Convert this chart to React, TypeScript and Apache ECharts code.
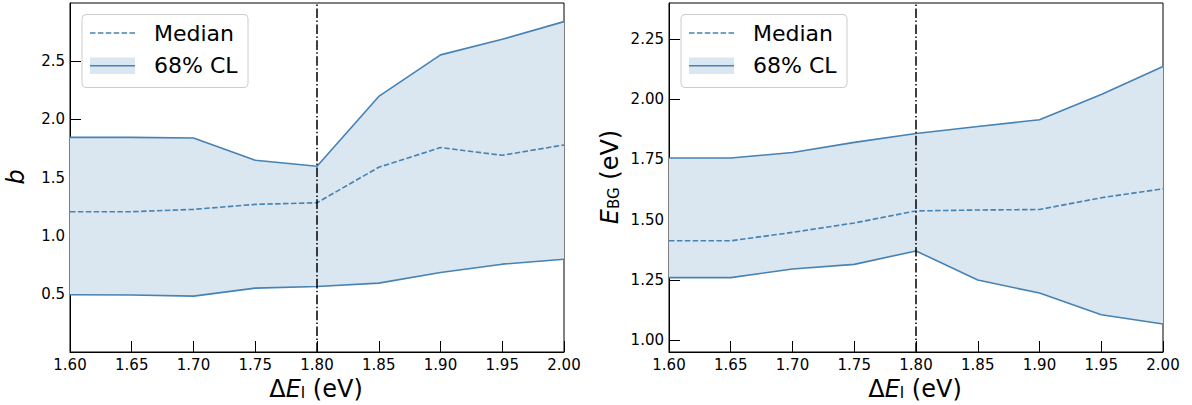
import React, { useEffect, useRef } from "react";
import * as echarts from "echarts";

const xValues = [1.6, 1.65, 1.7, 1.75, 1.8, 1.85, 1.9, 1.95, 2.0];
const xTicks = [1.6, 1.65, 1.7, 1.75, 1.8, 1.85, 1.9, 1.95, 2.0];

const bUpper = [1.845, 1.845, 1.84, 1.648, 1.597, 2.197, 2.554, 2.688, 2.84];
const bMedian = [1.206, 1.206, 1.226, 1.269, 1.283, 1.588, 1.757, 1.691, 1.78];
const bLower = [0.492, 0.49, 0.48, 0.549, 0.563, 0.592, 0.683, 0.755, 0.797];
const bTicks = [0.5, 1.0, 1.5, 2.0, 2.5];

const eUpper = [1.756, 1.756, 1.779, 1.821, 1.858, 1.887, 1.915, 2.02, 2.136];
const eMedian = [1.412, 1.412, 1.447, 1.486, 1.536, 1.54, 1.542, 1.591, 1.628];
const eLower = [1.259, 1.259, 1.295, 1.314, 1.37, 1.249, 1.195, 1.105, 1.066];
const eTicks = [1.0, 1.25, 1.5, 1.75, 2.0, 2.25];

const cutX = 1.8;

const BLUE = "#4682b4";
const FILL = "#dae6f0";
const FONT = "DejaVu Sans";
const LW = 1.6;

function bandSeries(idx: number, lower: number[], upper: number[], median: number[]) {
  const pairs = (arr: number[]) => xValues.map((x, i) => [x, arr[i]]);
  return [
    {
      type: "custom",
      xAxisIndex: idx,
      yAxisIndex: idx,
      data: [[xValues[0], lower[0]]],
      z: 1,
      silent: true,
      renderItem: (_params: any, api: any) => {
        const pts: number[][] = [];
        for (let i = 0; i < xValues.length; i++) pts.push(api.coord([xValues[i], upper[i]]));
        for (let i = xValues.length - 1; i >= 0; i--) pts.push(api.coord([xValues[i], lower[i]]));
        return { type: "polygon", shape: { points: pts }, style: { fill: FILL } };
      },
    },
    {
      type: "line",
      xAxisIndex: idx,
      yAxisIndex: idx,
      data: pairs(lower),
      symbol: "none",
      lineStyle: { color: BLUE, width: LW },
      z: 3,
    },
    {
      type: "line",
      xAxisIndex: idx,
      yAxisIndex: idx,
      data: pairs(upper),
      symbol: "none",
      lineStyle: { color: BLUE, width: LW },
      z: 3,
    },
    {
      type: "line",
      xAxisIndex: idx,
      yAxisIndex: idx,
      data: pairs(median),
      symbol: "none",
      lineStyle: { color: BLUE, width: LW, type: [5.5, 2.4] },
      z: 4,
      markLine: {
        silent: true,
        symbol: "none",
        label: { show: false },
        lineStyle: { color: "#000", width: 1.5, type: [9.6, 2.4, 1.5, 2.4] },
        data: [{ xAxis: cutX }],
        z: 5,
      },
    },
  ];
}

function legendGraphic(ox: number) {
  return [
    {
      type: "rect",
      shape: { x: 82 + ox, y: 14.5, width: 166, height: 73, r: 4 },
      style: { fill: "rgba(255,255,255,0.8)", stroke: "#cccccc", lineWidth: 1 },
      z: 10,
    },
    {
      type: "line",
      shape: { x1: 90 + ox, y1: 33, x2: 135 + ox, y2: 33 },
      style: { stroke: BLUE, lineWidth: LW, lineDash: [5.5, 2.4] },
      z: 11,
    },
    {
      type: "rect",
      shape: { x: 90 + ox, y: 57.5, width: 45, height: 16.5 },
      style: { fill: FILL },
      z: 11,
    },
    {
      type: "line",
      shape: { x1: 90 + ox, y1: 65.7, x2: 135 + ox, y2: 65.7 },
      style: { stroke: BLUE, lineWidth: LW },
      z: 12,
    },
    {
      type: "text",
      x: 154 + ox,
      y: 33,
      style: { text: "Median", font: `22px '${FONT}'`, fill: "#000", verticalAlign: "middle", align: "left" },
      z: 12,
    },
    {
      type: "text",
      x: 154 + ox,
      y: 65.5,
      style: { text: "68% CL", font: `22px '${FONT}'`, fill: "#000", verticalAlign: "middle", align: "left" },
      z: 12,
    },
  ];
}

function xTitle(cx: number) {
  return {
    type: "text",
    x: cx,
    y: 389,
    style: {
      text: "Δ{i|E}{s|I} (eV)",
      fontFamily: FONT,
      fontSize: 24,
      fill: "#000",
      align: "center",
      verticalAlign: "middle",
      rich: {
        i: { fontFamily: FONT, fontSize: 24, fontStyle: "italic", fill: "#000" },
        s: { fontFamily: FONT, fontSize: 15, fill: "#000", padding: [8, 0, 0, 0] },
      },
    },
  };
}

export default function App() {
  const ref = useRef<HTMLDivElement>(null);
  useEffect(() => {
    if (!ref.current) return;
    const chart = echarts.init(ref.current, undefined, { renderer: "svg" });
    const mkX = (idx: number) => ({
      type: "value",
      gridIndex: idx,
      min: 1.6,
      max: 2.0,
      axisLine: { show: true, lineStyle: { color: "#000", width: 1 } },
      axisTick: { show: true, inside: true, length: 11, lineStyle: { color: "#000", width: 1 }, customValues: xTicks },
      axisLabel: {
        show: true,
        margin: 5,
        fontFamily: FONT,
        fontSize: 15,
        color: "#000",
        customValues: xTicks,
        formatter: (v: number) => v.toFixed(2),
      },
      splitLine: { show: false },
    });
    const mkY = (idx: number, min: number, max: number, ticks: number[], dec: number) => ({
      type: "value",
      gridIndex: idx,
      min,
      max,
      axisLine: { show: true, lineStyle: { color: "#000", width: 1 } },
      axisTick: { show: true, inside: true, length: 11, lineStyle: { color: "#000", width: 1 }, customValues: ticks },
      axisLabel: {
        show: true,
        margin: 5,
        fontFamily: FONT,
        fontSize: 15,
        color: "#000",
        customValues: ticks,
        formatter: (v: number) => v.toFixed(dec),
      },
      splitLine: { show: false },
    });
    chart.setOption({
      animation: false,
      backgroundColor: "#fff",
      grid: [
        { left: 70, top: 3, width: 494, height: 349, show: true, borderColor: "#000", borderWidth: 1, backgroundColor: "transparent" },
        { left: 669, top: 3, width: 494, height: 349, show: true, borderColor: "#000", borderWidth: 1, backgroundColor: "transparent" },
      ],
      xAxis: [mkX(0), mkX(1)],
      yAxis: [mkY(0, 0, 3, bTicks, 1), mkY(1, 0.95, 2.4, eTicks, 2)],
      series: [...bandSeries(0, bLower, bUpper, bMedian), ...bandSeries(1, eLower, eUpper, eMedian)],
      graphic: [
        ...legendGraphic(0),
        ...legendGraphic(599),
        xTitle(316),
        xTitle(915),
        {
          type: "text",
          x: 16,
          y: 177,
          rotation: Math.PI / 2,
          style: {
            text: "b",
            fontFamily: FONT,
            fontSize: 24,
            fontStyle: "italic",
            fill: "#000",
            align: "center",
            verticalAlign: "middle",
          },
        },
        {
          type: "text",
          x: 610,
          y: 177,
          rotation: Math.PI / 2,
          style: {
            text: "{i|E}{s|BG} (eV)",
            fontFamily: FONT,
            fontSize: 24,
            fill: "#000",
            align: "center",
            verticalAlign: "middle",
            rich: {
              i: { fontFamily: FONT, fontSize: 24, fontStyle: "italic", fill: "#000" },
              s: { fontFamily: FONT, fontSize: 15, fill: "#000", padding: [8, 0, 0, 0] },
            },
          },
        },
      ],
    });
    return () => chart.dispose();
  }, []);
  return (
    <div
      ref={ref}
      style={{ position: "fixed", left: 0, top: 0, width: 1192, height: 405 }}
    />
  );
}
